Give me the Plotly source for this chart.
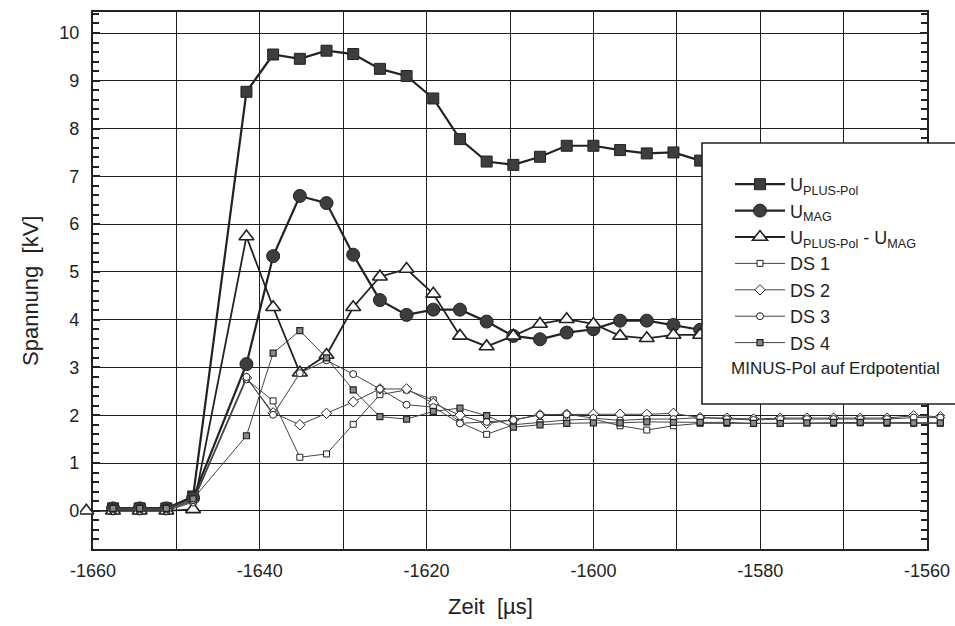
import plotly.graph_objects as go

# time axis [µs]; sample at -1644.8 was not recorded
t_all = [-1660.8, -1657.6, -1654.4, -1651.2, -1648.0,
         -1641.6, -1638.4, -1635.2, -1632.0, -1628.8, -1625.6, -1622.4, -1619.2,
         -1616.0, -1612.8, -1609.6, -1606.4, -1603.2, -1600.0, -1596.8, -1593.6,
         -1590.4, -1587.2, -1584.0, -1580.8, -1577.6, -1574.4, -1571.2, -1568.0,
         -1564.8, -1561.6, -1558.4]
t_from1 = t_all[1:]

u_plus = [0.05, 0.05, 0.05, 0.30,
          8.77, 9.55, 9.46, 9.63, 9.56, 9.25, 9.10, 8.63, 7.78, 7.31, 7.24,
          7.41, 7.64, 7.64, 7.55, 7.48, 7.50, 7.33,
          7.30, 7.28, 7.32, 7.35, 7.30, 7.27, 7.30, 7.32, 7.30]
u_mag = [0.05, 0.05, 0.05, 0.27,
         3.07, 5.33, 6.59, 6.44, 5.36, 4.41, 4.10, 4.21, 4.21, 3.96, 3.66,
         3.59, 3.73, 3.80, 3.98, 3.98, 3.89, 3.79,
         3.75, 3.72, 3.78, 3.80, 3.76, 3.74, 3.77, 3.79, 3.76]
u_diff = [0.00, 0.00, 0.00, 0.00, 0.03,
          5.74, 4.26, 2.89, 3.26, 4.26, 4.90, 5.06, 4.54, 3.66, 3.44, 3.66,
          3.91, 4.01, 3.91, 3.66, 3.61, 3.68, 3.68,
          3.55, 3.56, 3.54, 3.55, 3.54, 3.53, 3.53, 3.53, 3.54]
ds1 = [0.00, 0.00, 0.00, 0.18,
       2.75, 2.30, 1.12, 1.19, 1.81, 2.43, 2.53, 2.32, 1.85, 1.60, 1.80,
       1.85, 1.90, 1.92, 1.78, 1.69, 1.78, 1.83, 1.83, 1.84, 1.83, 1.84,
       1.83, 1.84, 1.83, 1.83, 1.83]
ds2 = [0.02, 0.02, 0.02, 0.20,
       2.78, 2.05, 1.80, 2.04, 2.28, 2.55, 2.55, 2.25, 2.00, 1.83, 1.90,
       2.01, 2.02, 2.02, 2.02, 2.02, 2.04, 1.95, 1.94, 1.92, 1.94, 1.94,
       1.94, 1.94, 1.94, 1.99, 1.97]
ds3 = [0.03, 0.03, 0.03, 0.22,
       2.80, 2.01, 2.88, 3.15, 2.86, 2.55, 2.22, 2.17, 1.83, 1.86, 1.90,
       2.01, 2.02, 1.94, 1.89, 1.92, 1.92, 1.95, 1.92, 1.90, 1.92, 1.92,
       1.92, 1.92, 1.92, 1.95, 1.95]
ds4 = [0.05, 0.05, 0.05, 0.25,
       1.57, 3.30, 3.77, 3.20, 2.53, 1.97, 1.92, 2.08, 2.15, 1.99, 1.75,
       1.80, 1.83, 1.84, 1.84, 1.86, 1.85, 1.85, 1.85, 1.83, 1.83, 1.84,
       1.85, 1.85, 1.85, 1.84, 1.84]

x_ticks = [-1660, -1650, -1640, -1630, -1620, -1610, -1600, -1590, -1580, -1570, -1560]
x_ticktext = ["-1660", "", "-1640", "", "-1620", "", "-1600", "", "-1580", "", "-1560"]
y_ticks = [0, 1, 2, 3, 4, 5, 6, 7, 8, 9, 10]

FONT = "Liberation Sans, Arial, sans-serif"
INK = "#222222"

# pixel layout: framed plot spans x 93..927, y 12..549; the curves live on a
# slightly wider hidden axis pair (x 80..945) so end points past the frame show
W, H = 955, 626
L_OUT, R_OUT, TOP, BOT = 80, 945, 12, 549
FRAME_L, FRAME_R = 93, 927
X_MIN, X_MAX = -1660.0, -1560.0
Y_MIN, Y_MAX = -0.8, 10.44
px_per_unit = (FRAME_R - FRAME_L) / (X_MAX - X_MIN)
wide_range = [X_MIN - (FRAME_L - L_OUT) / px_per_unit,
              X_MAX + (R_OUT - FRAME_R) / px_per_unit]


def px_x(p):
    return (p - L_OUT) / (R_OUT - L_OUT)


def px_y(p):
    return (BOT - p) / (BOT - TOP)


fig = go.Figure()

# empty trace so the framed, gridded subplot is drawn
fig.add_trace(go.Scatter(x=[], y=[], xaxis="x", yaxis="y", showlegend=False,
                         hoverinfo="skip"))


def add(x, y, name, symbol, size, fill, lw, mlw, lcolor=INK):
    fig.add_trace(go.Scatter(
        x=x, y=y, name=name, mode="lines+markers", xaxis="x2", yaxis="y2",
        line=dict(color=lcolor, width=lw),
        marker=dict(symbol=symbol, size=size, color=fill,
                    line=dict(color=INK, width=mlw)),
    ))


add(t_from1, u_plus, "U<sub>PLUS-Pol</sub>", "square", 11, "#3d3d3d", 2.2, 1)
add(t_from1, u_mag, "U<sub>MAG</sub>", "circle", 13, "#3d3d3d", 2.2, 1)
add(t_all, u_diff, "U<sub>PLUS-Pol</sub> - U<sub>MAG</sub>", "triangle-up", 13,
    "white", 1.8, 1.6)
add(t_from1, ds1, "DS 1", "square", 6, "white", 1, 1, "#444444")
add(t_from1, ds2, "DS 2", "diamond", 8, "white", 1, 1, "#444444")
add(t_from1, ds3, "DS 3", "circle", 7, "white", 1, 1, "#444444")
add(t_from1, ds4, "DS 4", "square", 6, "#8a8a8a", 1, 1.2, "#444444")

# legend frame, drawn over the curves
fig.add_shape(type="rect", xref="paper", yref="paper",
              x0=px_x(702), x1=px_x(975), y0=px_y(404), y1=px_y(143),
              line=dict(color=INK, width=1.6), fillcolor="white", layer="above")

fig.add_annotation(text="MINUS-Pol auf Erdpotential", xref="paper", yref="paper",
                   x=px_x(729), y=px_y(368), xanchor="left", yanchor="middle",
                   showarrow=False, font=dict(family=FONT, size=17, color=INK))
fig.add_annotation(text="Spannung\u00a0\u00a0[kV]", xref="paper", yref="paper",
                   x=px_x(30), y=px_y(291), textangle=-90, showarrow=False,
                   xanchor="center", yanchor="middle",
                   font=dict(family=FONT, size=22, color=INK))
fig.add_annotation(text="Zeit\u00a0\u00a0[µs]", xref="paper", yref="paper",
                   x=px_x(490), y=px_y(606), showarrow=False,
                   xanchor="center", yanchor="middle",
                   font=dict(family=FONT, size=22, color=INK))

fig.update_layout(
    width=W, height=H,
    margin=dict(l=L_OUT, r=W - R_OUT, t=TOP, b=H - BOT, autoexpand=False),
    paper_bgcolor="white", plot_bgcolor="rgba(0,0,0,0)",
    font=dict(family=FONT, size=18, color=INK),
    showlegend=True,
    legend=dict(x=px_x(730), y=px_y(166), xanchor="left", yanchor="top",
                bgcolor="rgba(0,0,0,0)", borderwidth=0, itemwidth=50,
                font=dict(family=FONT, size=18, color=INK),
                tracegroupgap=0),
    xaxis=dict(domain=[px_x(FRAME_L), px_x(FRAME_R)], anchor="y",
               range=[X_MIN, X_MAX], tickvals=x_ticks, ticktext=x_ticktext,
               showgrid=True, gridcolor="#1e1e1e", gridwidth=1.3,
               showline=True, linecolor=INK, linewidth=2.2, mirror=True,
               ticks="", ticklabelstandoff=4, zeroline=False, automargin=False,
               tickfont=dict(size=18)),
    yaxis=dict(domain=[0, 1], anchor="x", range=[Y_MIN, Y_MAX], tickvals=y_ticks,
               showgrid=True, gridcolor="#1e1e1e", gridwidth=1.3,
               showline=True, linecolor=INK, linewidth=2.2, mirror="allticks",
               ticks="inside", ticklen=7, tickcolor=INK, tickwidth=1.6,
               minor=dict(ticks="inside", ticklen=6, dtick=0.2, tick0=0,
                          tickcolor=INK, tickwidth=1.6, showgrid=False),
               zeroline=False, ticklabelstandoff=8, automargin=False,
               tickfont=dict(size=18)),
    xaxis2=dict(domain=[0, 1], anchor="y2", range=wide_range, visible=False,
                showgrid=False, zeroline=False, automargin=False),
    yaxis2=dict(domain=[0, 1], anchor="x2", range=[Y_MIN, Y_MAX], visible=False,
                showgrid=False, zeroline=False, automargin=False),
)

fig.write_html("out.html")
